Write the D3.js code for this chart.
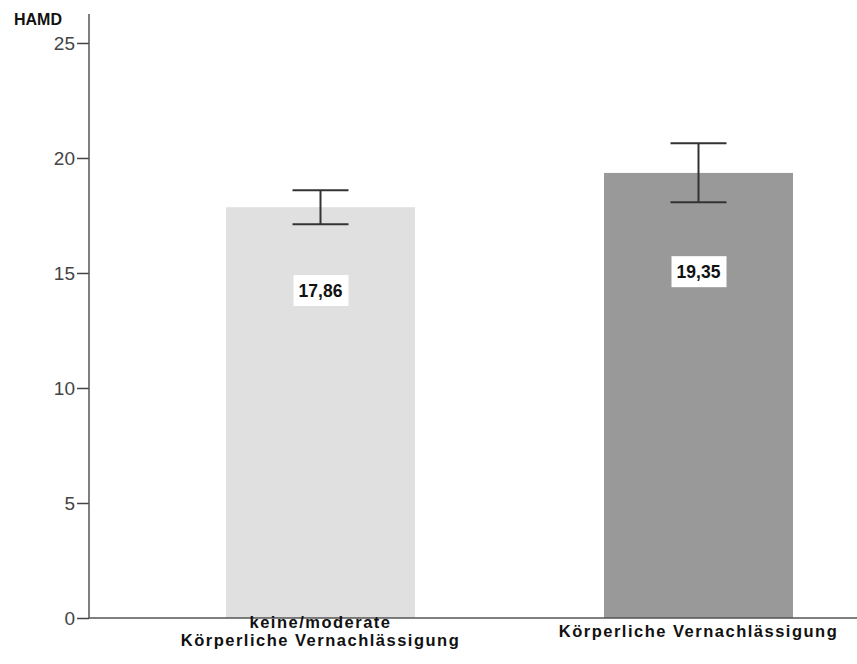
<!DOCTYPE html>
<html>
<head>
<meta charset="utf-8">
<script src="https://cdn.jsdelivr.net/npm/d3@7"></script>
<style>
  html, body { margin: 0; padding: 0; background: #fff; }
  svg { display: block; }
  text { font-family: "Liberation Sans", Arial, sans-serif; }
</style>
</head>
<body>
<svg id="chart" width="857" height="664"></svg>
<script>
// HAMD means by group, with error-bar bounds
const categories = [
  ["keine/moderate", "Körperliche Vernachlässigung"],
  ["Körperliche Vernachlässigung"]
];
const means = [17.86, 19.35];
const errLow = [17.12, 18.08];
const errHigh = [18.60, 20.64];
const valueLabels = ["17,86", "19,35"];
const yTicks = [0, 5, 10, 15, 20, 25];
const barColors = ["#e0e0e0", "#999999"];

const svg = d3.select("#chart");
const m = { left: 89, right: 857, top: 14, bottom: 618 };

const y = d3.scaleLinear().domain([0, 26.26]).range([m.bottom, m.top]);
const x = d3.scaleBand().domain(d3.range(means.length)).range([226, 793]).paddingInner(0.5).paddingOuter(0);
const cx = i => x(i) + x.bandwidth() / 2;

// bars
svg.selectAll("rect.bar").data(means).join("rect")
  .attr("class", "bar")
  .attr("x", (d, i) => x(i))
  .attr("width", x.bandwidth())
  .attr("y", d => y(d))
  .attr("height", d => m.bottom - y(d))
  .attr("fill", (d, i) => barColors[i]);

// error bars
const capHalf = 28;
const eb = svg.selectAll("g.err").data(means).join("g").attr("class", "err")
  .attr("stroke", "#333").attr("stroke-width", 2);
eb.append("line")
  .attr("x1", (d, i) => cx(i)).attr("x2", (d, i) => cx(i))
  .attr("y1", (d, i) => y(errLow[i])).attr("y2", (d, i) => y(errHigh[i]));
eb.append("line")
  .attr("x1", (d, i) => cx(i) - capHalf).attr("x2", (d, i) => cx(i) + capHalf)
  .attr("y1", (d, i) => y(errHigh[i])).attr("y2", (d, i) => y(errHigh[i]));
eb.append("line")
  .attr("x1", (d, i) => cx(i) - capHalf).attr("x2", (d, i) => cx(i) + capHalf)
  .attr("y1", (d, i) => y(errLow[i])).attr("y2", (d, i) => y(errLow[i]));

// value labels in white boxes inside the bars
const labelFrac = [0.796, 0.777];
const vl = svg.selectAll("g.vlabel").data(means).join("g").attr("class", "vlabel")
  .attr("transform", (d, i) => `translate(${cx(i)},${y(d * labelFrac[i])})`);
vl.append("rect").attr("x", -27).attr("y", -16).attr("width", 55).attr("height", 31).attr("fill", "#fff");
vl.append("text").attr("text-anchor", "middle").attr("dy", "0.36em")
  .attr("font-size", 17.5).attr("font-weight", "bold").attr("fill", "#111")
  .text((d, i) => valueLabels[i]);

// y axis
const yAxis = d3.axisLeft(y).tickValues(yTicks).tickSize(12).tickPadding(2).tickFormat(d3.format("d"));
const ga = svg.append("g").attr("transform", `translate(${m.left},0)`).call(yAxis);
ga.select(".domain").remove();
ga.selectAll(".tick line").attr("stroke", "#444").attr("stroke-width", 1.5);
ga.selectAll(".tick text").attr("font-size", 19).attr("fill", "#444")
  .attr("dy", "0.36em")
  .style("font-family", "'Liberation Sans', Arial, sans-serif");
svg.append("line").attr("x1", m.left).attr("x2", m.left).attr("y1", m.top).attr("y2", m.bottom)
  .attr("stroke", "#555").attr("stroke-width", 1.5);

// x axis baseline
svg.append("line").attr("x1", m.left).attr("x2", m.right).attr("y1", m.bottom).attr("y2", m.bottom)
  .attr("stroke", "#555").attr("stroke-width", 1.5);

// category labels, block centred vertically under the axis
const lineH = 18.5;
svg.selectAll("text.cat").data(categories).join("text")
  .attr("class", "cat")
  .attr("x", (d, i) => cx(i))
  .attr("y", d => 637 - (d.length - 1) * lineH / 2)
  .attr("text-anchor", "middle")
  .attr("font-size", 16.5).attr("font-weight", "bold").attr("fill", "#111")
  .attr("letter-spacing", 1.5)
  .each(function(d, i) {
    d3.select(this).selectAll("tspan").data(d).join("tspan")
      .attr("x", cx(i))
      .attr("dy", (t, j) => j === 0 ? 0 : lineH)
      .text(t => t);
  });

// axis title
svg.append("text").attr("x", 14).attr("y", 25)
  .attr("font-size", 16).attr("font-weight", "bold").attr("fill", "#111")
  .text("HAMD");
</script>
</body>
</html>
